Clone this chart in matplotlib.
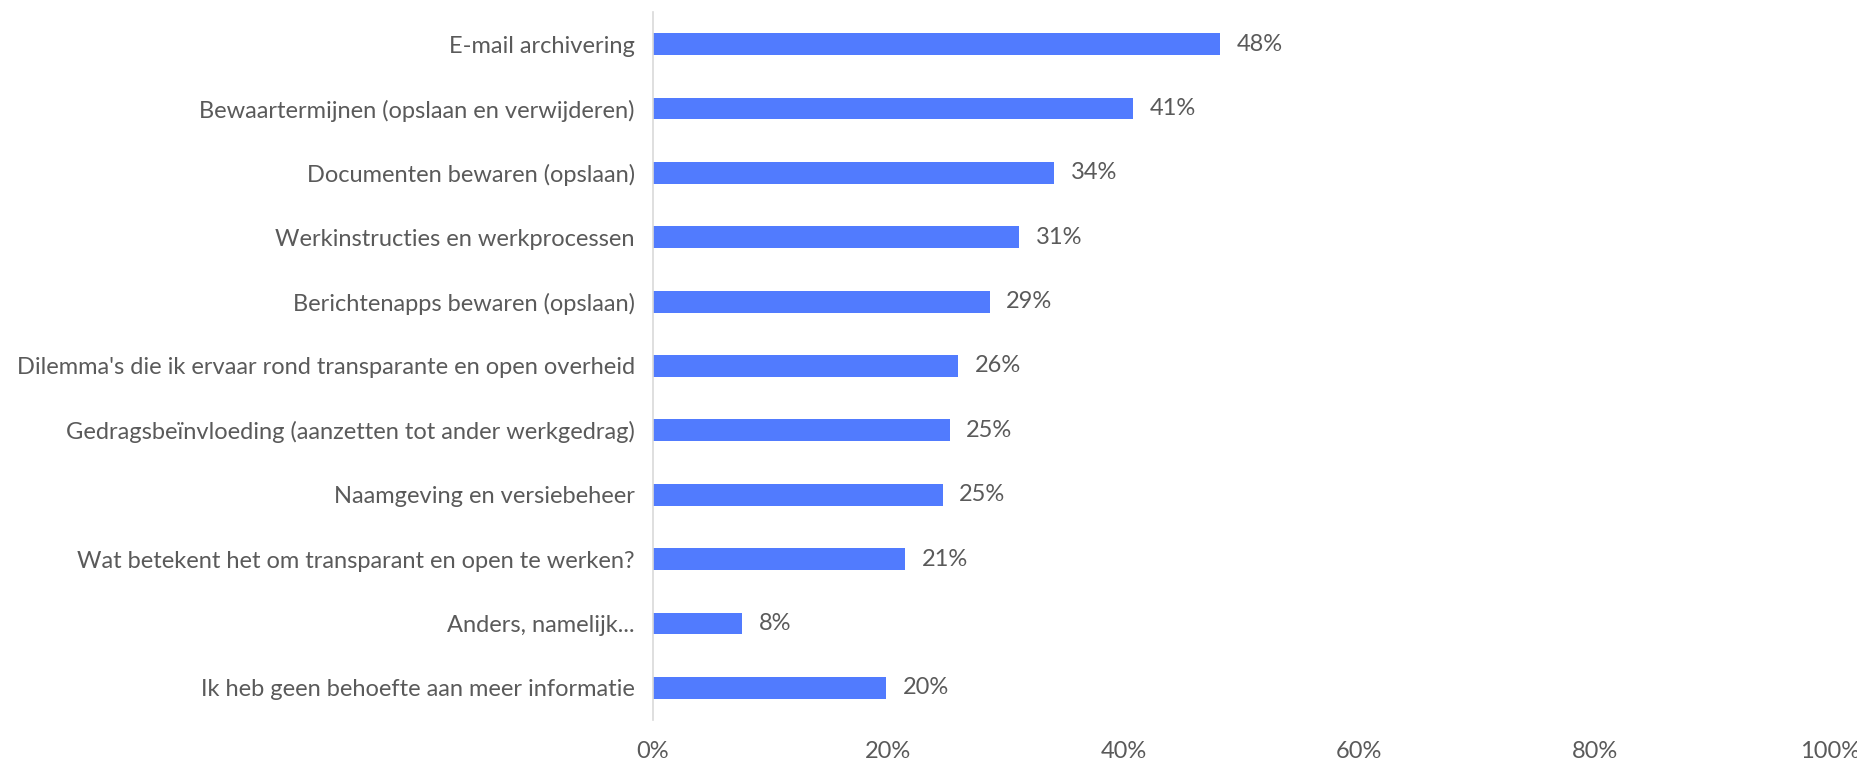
import matplotlib
matplotlib.use("Agg")
import matplotlib.pyplot as plt

categories = [
    "E-mail archivering",
    "Bewaartermijnen (opslaan en verwijderen)",
    "Documenten bewaren (opslaan)",
    "Werkinstructies en werkprocessen",
    "Berichtenapps bewaren (opslaan)",
    "Dilemma's die ik ervaar rond transparante en open overheid",
    "Gedragsbeïnvloeding (aanzetten tot ander werkgedrag)",
    "Naamgeving en versiebeheer",
    "Wat betekent het om transparant en open te werken?",
    "Anders, namelijk...",
    "Ik heb geen behoefte aan meer informatie",
]
values = [48.2, 40.8, 34.1, 31.1, 28.6, 25.9, 25.2, 24.6, 21.4, 7.6, 19.8]
xticks = [0, 20, 40, 60, 80, 100]
xtick_labels = ["0%", "20%", "40%", "60%", "80%", "100%"]

BAR = "#517BFE"
TXT = "#5A5A5A"
FONT = ["Lato", "DejaVu Sans"]
FS = 17

plt.rcParams["font.family"] = FONT

fig = plt.figure(figsize=(18.58, 7.6), dpi=100)
ax = fig.add_axes([653 / 1858, 1 - 720 / 760, (1830 - 653) / 1858, (720 - 12) / 760])

n = len(categories)
ypos = list(range(n))
ax.barh(ypos, values, height=0.34, color=BAR, zorder=2)
for y, v in zip(ypos, values):
    ax.annotate(f"{v:.0f}%", xy=(v, y), xytext=(12, 0), textcoords="offset points",
                va="center", ha="left", fontsize=FS, color=TXT)

ax.set_ylim(n - 0.5, -0.5)
ax.set_xlim(0, 100)
ax.set_yticks(ypos)
ax.set_yticklabels(categories, fontsize=FS, color=TXT)
ax.set_xticks(xticks)
ax.set_xticklabels(xtick_labels, fontsize=FS, color=TXT)
ax.tick_params(axis="both", length=0)
ax.tick_params(axis="y", pad=13)
ax.tick_params(axis="x", pad=15)
for s in ["top", "right", "bottom"]:
    ax.spines[s].set_visible(False)
ax.spines["left"].set_color("#D9D9D9")
ax.spines["left"].set_linewidth(1.2)

fig.savefig("out.png", dpi=100)
